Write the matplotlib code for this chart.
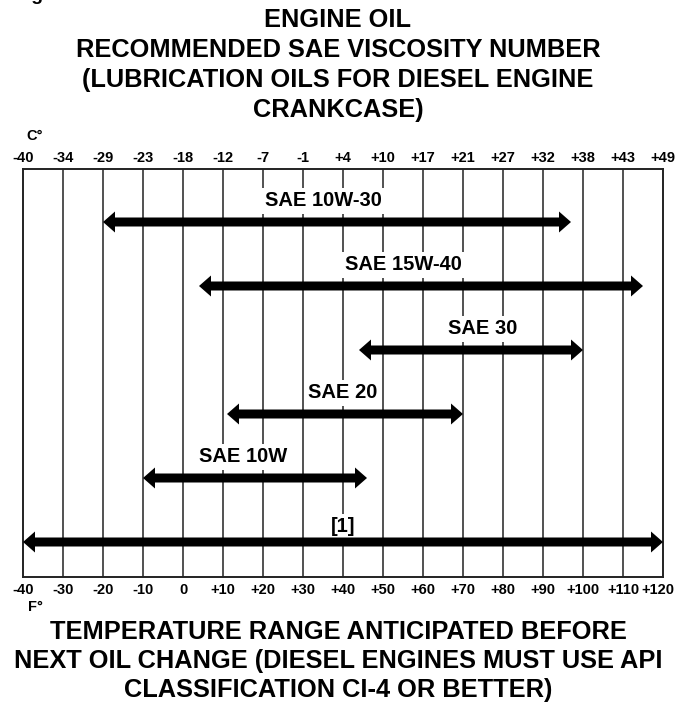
#!/usr/bin/env python3
"""Engine oil viscosity chart: SAE grade vs. ambient temperature range."""
import matplotlib
matplotlib.use("Agg")
import matplotlib.pyplot as plt
from matplotlib.transforms import ScaledTranslation

plt.rcParams["font.family"] = ["Liberation Sans", "DejaVu Sans"]
plt.rcParams["font.weight"] = "bold"

# temperature scale (bottom in deg F, top in deg C)
f_ticks = [-40, -30, -20, -10, 0, 10, 20, 30, 40, 50, 60, 70, 80, 90, 100, 110, 120]
f_labels = ["-40", "-30", "-20", "-10", "0", "+10", "+20", "+30", "+40", "+50",
            "+60", "+70", "+80", "+90", "+100", "+110", "+120"]
c_labels = ["-40", "-34", "-29", "-23", "-18", "-12", "-7", "-1", "+4", "+10",
            "+17", "+21", "+27", "+32", "+38", "+43", "+49"]

# oil grades and their usable range in deg F
oils = ["SAE 10W-30", "SAE 15W-40", "SAE 30", "SAE 20", "SAE 10W", "[1]"]
low_f = [-20, 4, 44, 11, -10, -40]
high_f = [97, 115, 100, 70, 46, 120]
label_at_f = [35, 55, 75, 40, 15, 40]

title = ["ENGINE OIL",
         "RECOMMENDED SAE VISCOSITY NUMBER",
         "(LUBRICATION OILS FOR DIESEL ENGINE",
         "CRANKCASE)"]
footer = ["TEMPERATURE RANGE ANTICIPATED BEFORE",
          "NEXT OIL CHANGE (DIESEL ENGINES MUST USE API",
          "CLASSIFICATION CI-4 OR BETTER)"]

W, H = 676, 706
fig = plt.figure(figsize=(W / 100, H / 100), dpi=100)
# plot box: x 23..663 px, y 169..577 px from top
ax = fig.add_axes([23 / W, (H - 577) / H, 640 / W, 408 / H])

ax.set_xlim(-40, 120)
row_px = 64.0
ax.set_ylim((408 - 53) / row_px, -53 / row_px)

ax.vlines(f_ticks[1:-1], *ax.get_ylim(), color="#222222", lw=1.1, zorder=1)
for sp in ax.spines.values():
    sp.set_linewidth(1.4)
    sp.set_color("#222222")

ax.set_yticks([])
ax.set_xticks(f_ticks)
ax.set_xticklabels(f_labels, fontsize=10.5, fontweight="bold")
ax.tick_params(axis="x", length=0, pad=4)
# last label sits on the right edge; nudge it in so it is not cut
last = ax.get_xticklabels()[-1]
last.set_transform(last.get_transform() + ScaledTranslation(-4 / 72, 0, fig.dpi_scale_trans))

top = ax.twiny()
top.set_xlim(ax.get_xlim())
top.set_xticks(f_ticks)
top.set_xticklabels(c_labels, fontsize=10.5, fontweight="bold")
top.tick_params(axis="x", length=0, pad=3)
for sp in top.spines.values():
    sp.set_visible(False)

# px -> data: 1 deg F = 4 px, 1 row = 64 px
shaft = 9 / row_px
head_w = 21 / row_px
head_l = 12 / 4
for i, name in enumerate(oils):
    mid = (low_f[i] + high_f[i]) / 2
    for end in (low_f[i], high_f[i]):
        ax.arrow(mid, i, end - mid, 0, width=shaft, head_width=head_w,
                 head_length=head_l, length_includes_head=True,
                 fc="black", ec="none", lw=0, zorder=4)
    lift = 15 if name == "[1]" else 21
    ax.annotate(name, (label_at_f[i], i), xytext=(0, lift * 0.72),
                textcoords="offset points", ha="center", va="center",
                fontsize=14.5, fontweight="bold", zorder=3,
                bbox=dict(boxstyle="square,pad=0.15", fc="white", ec="none"))

for k, line in enumerate(title):
    fig.text(0.5, 1 - (20 + 30 * k) / H, line, ha="center", va="center",
             fontsize=18.3, fontweight="bold")
for k, line in enumerate(footer):
    fig.text(0.5, 1 - (632 + 29 * k) / H, line, ha="center", va="center",
             fontsize=18.3, fontweight="bold")

fig.text(35 / W, 1 - 136 / H, "C°", ha="center", va="center", fontsize=10.5,
         fontweight="bold")
fig.text(35 / W, 1 - 607 / H, "F°", ha="center", va="center", fontsize=10.5,
         fontweight="bold")
# clipped heading above the picture, only the descender shows
fig.text(15 / W, 1 + 0.5 / H, "Figure", ha="left", va="baseline", fontsize=14,
         fontweight="bold")

fig.savefig("out.png", dpi=100, facecolor="white")
